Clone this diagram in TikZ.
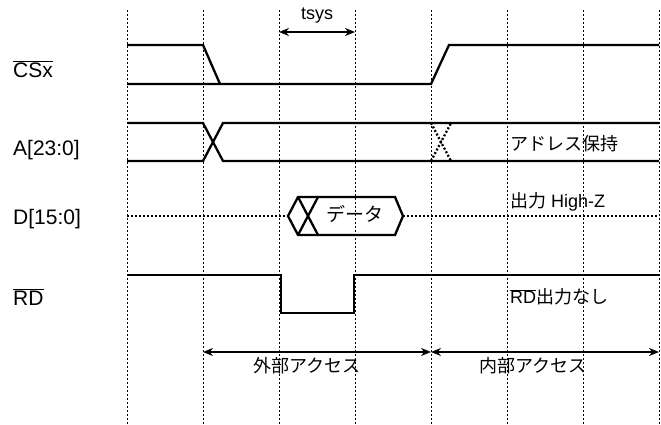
\documentclass[tikz,border=0pt]{standalone}
\usepackage{fontspec}
\setmainfont{Liberation Sans}
\newfontfamily\cjk{Noto Sans CJK JP}
\usetikzlibrary{arrows.meta}
\newcommand\ovl[1]{$\overline{\hbox{#1}}$}
\begin{document}
\begin{tikzpicture}[x=1pt,y=-1pt,
  gridline/.style={line width=1pt,dash pattern=on 2pt off 2pt},
  sig/.style={line width=2.3pt,line join=miter},
  hiz/.style={line width=2.3pt,dash pattern=on 2pt off 2pt},
  dim/.style={line width=1.6pt,{Stealth[length=10pt,width=8pt]}-{Stealth[length=10pt,width=8pt]}},
  lbl/.style={font=\fontsize{21}{24}\selectfont,anchor=base west,inner sep=0pt},
  note/.style={font=\fontsize{18}{22}\selectfont,inner sep=0pt}]
\useasboundingbox (0,0) rectangle (661,424);
% grid
\foreach \k in {0,...,7}{
  \coordinate (t\k) at ({127+76*\k},10);
  \coordinate (b\k) at ({127+76*\k},424);
  \draw[gridline] (t\k) -- (b\k);
}
% labels
\node[lbl] (lcs) at (13,77) {\ovl{CSx}};
\node[lbl] (la) at (13,155) {A[23:0]};
\node[lbl] (ld) at (13,224) {D[15:0]};
\node[lbl] (lrd) at (13,305) {\ovl{RD}};
% CSx
\draw[sig] (127,45) -- (203,45) -- (220,84);
\draw[sig] (127,84) -- (431,84) -- (449,45) -- (659,45);
% A
\draw[sig] (127,123) -- (203,123) -- (223,161) -- (659,161);
\draw[sig] (127,161) -- (203,161) -- (223,123) -- (659,123);
\draw[hiz] (431,123) -- (451,161);
\draw[hiz] (431,161) -- (451,123);
\node[note,anchor=west] (addr) at (510,144) {\cjk アドレス保持};
% D
\draw[hiz] (127,216) -- (288,216);
\draw[sig] (288,216) -- (298,197) -- (395,197) -- (403,216) -- (395,235) -- (298,235) -- cycle;
\draw[sig] (298,197) -- (318,235);
\draw[sig] (318,197) -- (298,235);
\draw[hiz] (403,216) -- (659,216);
\node[note,font=\fontsize{19}{22}\selectfont] (data) at (355,214) {\cjk データ};
\node[note,anchor=west] (hz) at (510,202) {{\cjk 出力} High-Z};
% RD
\draw[sig] (127,275) -- (281,275) -- (281,313) -- (354,313) -- (354,275) -- (659,275);
\node[note,anchor=west] (nord) at (510,297) {\ovl{RD}{\cjk 出力なし}};
% tsys
\coordinate (ts1) at (279,32);
\coordinate (ts2) at (355,32);
\draw[dim] (ts1) -- (ts2);
\node[note] (tsys) at (317,16) {tsys};
% access arrows
\coordinate (e1) at (203,352);
\coordinate (e2) at (431,352);
\coordinate (e3) at (659,352);
\draw[dim] (e1) -- (e2);
\draw[dim] (e2) -- (e3);
\node[note] (ext) at (307,366) {\cjk 外部アクセス};
\node[note] (int) at (533,366) {\cjk 内部アクセス};
\end{tikzpicture}
\end{document}
